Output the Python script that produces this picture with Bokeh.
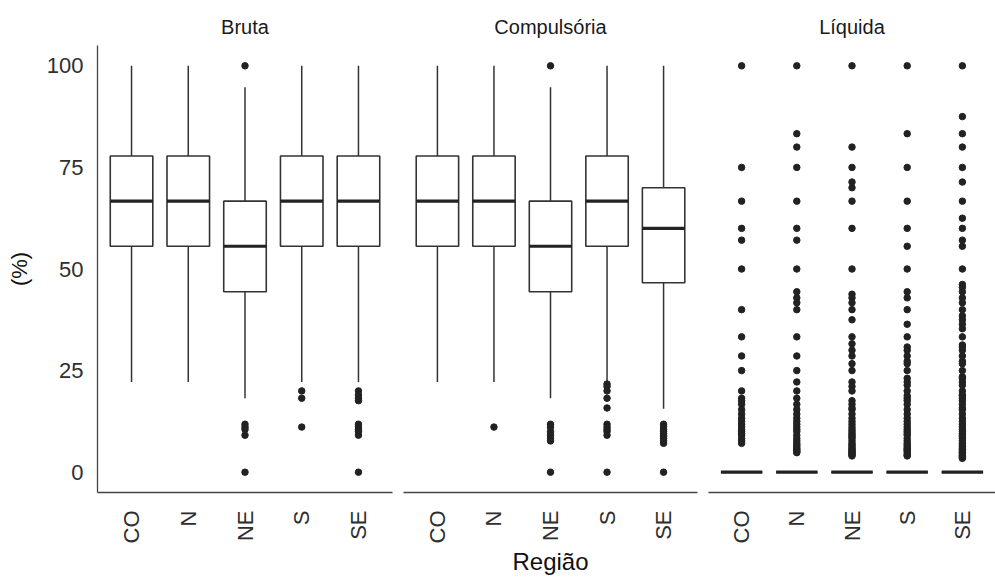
import math
from bokeh.plotting import figure
from bokeh.models import ColumnDataSource, FactorRange, Range1d, FixedTicker
from bokeh.layouts import row
from bokeh.embed import file_html
from bokeh.resources import INLINE

FONT = "Liberation Sans"

regions = ["CO", "N", "NE", "S", "SE"]
y_ticks = [0, 25, 50, 75, 100]

# ---- Bruta ----
bruta_lower = [22.2, 22.2, 18.2, 22.2, 22.2]
bruta_q1 = [55.6, 55.6, 44.4, 55.6, 55.6]
bruta_med = [66.7, 66.7, 55.6, 66.7, 66.7]
bruta_q3 = [77.8, 77.8, 66.7, 77.8, 77.8]
bruta_upper = [100, 100, 94.7, 100, 100]
bruta_outliers = {
    "CO": [],
    "N": [],
    "NE": [100, 11.8, 11.1, 10.5, 9.1, 0],
    "S": [20.0, 18.2, 11.1],
    "SE": [20.0, 19.0, 18.2, 17.6, 11.8, 11.1, 10.5, 10.0, 9.1, 0],
}

# ---- Compulsória ----
comp_lower = [22.2, 22.2, 18.2, 22.2, 15.6]
comp_q1 = [55.6, 55.6, 44.4, 55.6, 46.6]
comp_med = [66.7, 66.7, 55.6, 66.7, 60.0]
comp_q3 = [77.8, 77.8, 66.7, 77.8, 70.0]
comp_upper = [100, 100, 94.7, 100, 100]
comp_outliers = {
    "CO": [],
    "N": [11.1],
    "NE": [100, 11.8, 11.1, 10.0, 9.1, 8.3, 7.7, 0],
    "S": [21.7, 21.1, 20.0, 18.2, 15.8, 11.8, 11.1, 10.5, 10.0, 9.1, 0],
    "SE": [11.8, 11.1, 10.5, 10.0, 9.5, 9.1, 8.7, 8.3, 7.7, 7.1, 0],
}

# ---- Líquida ----
liq_lower = [0, 0, 0, 0, 0]
liq_q1 = [0, 0, 0, 0, 0]
liq_med = [0, 0, 0, 0, 0]
liq_q3 = [0, 0, 0, 0, 0]
liq_upper = [0, 0, 0, 0, 0]
liq_outliers = {
    "CO": [100, 75, 66.7, 60, 57.1, 50, 40, 33.3, 28.6, 25, 20, 18.2, 17.6,
           16.7, 15.4, 14.3, 13.3, 12.5, 11.8, 11.1, 10.5, 10, 9.5, 9.1, 8.3,
           7.7, 7.1],
    "N": [100, 83.3, 80, 75, 66.7, 60, 57.1, 50, 44.4, 42.9, 41.7, 40, 33.3,
          28.6, 25, 22.2, 20, 18.2, 16.7, 15.4, 14.3, 13.3, 12.5, 11.8, 11.1,
          10.5, 10, 9.1, 8.3, 7.7, 7.1, 6.7, 6.3, 5.9, 5.6, 5.3, 5.0, 4.8],
    "NE": [100, 80, 75, 71.4, 70, 66.7, 60, 50, 43.8, 42.9, 41.7, 40, 37.5,
           33.3, 31.6, 30, 28.6, 26.7, 25, 22.2, 21.1, 20, 17.6, 16.7, 15.8,
           15.4, 14.3, 13.3, 12.5, 11.8, 11.1, 10.5, 10, 9.5, 9.1, 8.7, 8.3,
           7.7, 7.1, 6.7, 6.3, 5.9, 5.6, 5.3, 5, 4.8, 4.5, 4.2, 4.0],
    "S": [100, 83.3, 75, 66.7, 60, 55.6, 50, 44.4, 42.9, 40, 36.4, 33.3,
          30.8, 30, 28.6, 27.3, 26.7, 25, 23.1, 22.2, 21.4, 20, 18.8, 18.2,
          17.6, 16.7, 15.4, 14.3, 13.3, 12.5, 11.8, 11.1, 10.5, 10, 9.5, 9.1,
          8.3, 7.7, 7.1, 6.7, 6.3, 5.9, 5.6, 5.3, 5, 4.5, 4.2, 4.0],
    "SE": [100, 87.5, 83.3, 80, 75, 71.4, 66.7, 62.5, 60, 57.1, 55.6, 50,
           46.2, 45.5, 44.4, 42.9, 41.7, 40, 38.5, 37.5, 36.4, 35.3, 33.3,
           31.3, 30.8, 30, 28.6, 27.3, 26.7, 25, 23.5, 23.1, 22.2, 21.4, 20,
           19, 18.8, 18.2, 17.6, 16.7, 15.8, 15.4, 14.3, 13.3, 12.5, 11.8,
           11.1, 10.5, 10, 9.5, 9.1, 8.7, 8.3, 7.7, 7.1, 6.7, 6.3, 5.9, 5.6,
           5.3, 5, 4.8, 4.5, 4.2, 4, 3.8, 3.6, 3.4],
}

BOX_COLOR = "#333333"
AXIS_COLOR = "#444444"
H = 578


def make_panel(title, lower, q1, med, q3, upper, outliers, width, left, right,
               show_y, xlabel):
    p = figure(
        x_range=FactorRange(*regions, range_padding=0.1,
                            range_padding_units="absolute"),
        y_range=Range1d(-5, 105),
        width=width, height=H,
        output_backend="svg", toolbar_location=None,
        min_border_left=left, min_border_right=right,
        min_border_top=45, min_border_bottom=86,
        y_axis_location="left" if show_y else None,
        title=title,
    )
    src = ColumnDataSource(dict(x=regions, lower=lower, q1=q1, med=med,
                                q3=q3, upper=upper))
    p.segment(x0="x", y0="q3", x1="x", y1="upper", source=src,
              line_color=BOX_COLOR, line_width=1.5)
    p.segment(x0="x", y0="q1", x1="x", y1="lower", source=src,
              line_color=BOX_COLOR, line_width=1.5)
    p.vbar(x="x", width=0.75, top="q3", bottom="q1", source=src,
           fill_color="white", line_color=BOX_COLOR, line_width=1.6)
    p.vbar(x="x", width=0.75, top="med", bottom="med", source=src,
           fill_color=None, line_color="#222222", line_width=3.2)

    ox, oy = [], []
    for r in regions:
        for v in outliers[r]:
            ox.append(r)
            oy.append(v)
    osrc = ColumnDataSource(dict(x=ox, y=oy))
    p.scatter(x="x", y="y", source=osrc, size=6.5, marker="circle",
              fill_color="#222222", line_color="#222222")

    p.xgrid.visible = False
    p.ygrid.visible = False
    p.outline_line_color = None
    p.background_fill_color = "white"

    p.title.align = "center"
    p.title.text_font = FONT
    p.title.text_font_size = "20px"
    p.title.text_font_style = "normal"
    p.title.text_color = "#1a1a1a"
    p.title.standoff = 16

    xa = p.xaxis[0]
    xa.major_label_orientation = math.pi / 2
    xa.major_tick_line_color = None
    xa.axis_line_color = AXIS_COLOR
    xa.axis_line_width = 1.3
    xa.major_label_text_font = FONT
    xa.major_label_text_font_size = "22px"
    xa.major_label_text_color = "#2e2e2e"
    xa.major_label_standoff = 12
    if xlabel:
        xa.axis_label = xlabel
        xa.axis_label_text_font = FONT
        xa.axis_label_text_font_size = "24px"
        xa.axis_label_text_font_style = "normal"
        xa.axis_label_text_color = "#111111"
        xa.axis_label_standoff = 1

    if show_y:
        ya = p.yaxis[0]
        ya.ticker = FixedTicker(ticks=y_ticks)
        ya.minor_tick_line_color = None
        ya.major_tick_line_color = None
        ya.axis_line_color = AXIS_COLOR
        ya.axis_line_width = 1.3
        ya.major_label_text_font = FONT
        ya.major_label_text_font_size = "22px"
        ya.major_label_text_color = "#2e2e2e"
        ya.major_label_standoff = 8
        ya.axis_label = "(%)"
        ya.axis_label_text_font = FONT
        ya.axis_label_text_font_size = "22px"
        ya.axis_label_text_font_style = "normal"
        ya.axis_label_text_color = "#111111"
        ya.axis_label_standoff = 12
    return p


p1 = make_panel("Bruta", bruta_lower, bruta_q1, bruta_med, bruta_q3,
                bruta_upper, bruta_outliers, 397, 97, 5, True, None)
p2 = make_panel("Compulsória", comp_lower, comp_q1, comp_med, comp_q3,
                comp_upper, comp_outliers, 306, 6, 6, False, "Região")
p3 = make_panel("Líquida", liq_lower, liq_q1, liq_med, liq_q3,
                liq_upper, liq_outliers, 292, 5, 0, False, None)

layout = row(p1, p2, p3, spacing=0)

open("out.html", "w").write(file_html(layout, INLINE))
